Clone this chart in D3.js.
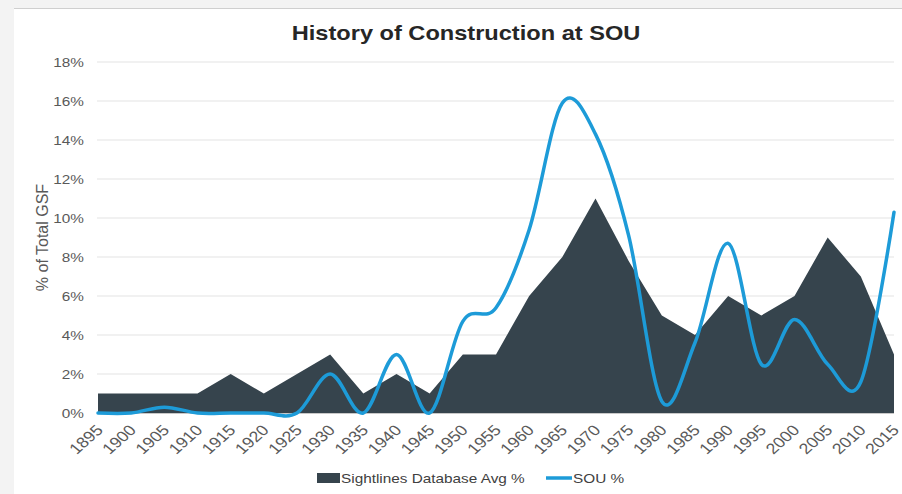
<!DOCTYPE html>
<html>
<head>
<meta charset="utf-8">
<script src="https://cdn.jsdelivr.net/npm/d3@7"></script>
<style>
  html, body { margin: 0; padding: 0; background: #f3f3f3; }
  svg { display: block; font-family: "Liberation Sans", Arial, sans-serif; }
</style>
</head>
<body>
<svg width="902" height="494"></svg>
<script>
const years = ["1895","1900","1905","1910","1915","1920","1925","1930","1935","1940","1945","1950","1955",
  "1960","1965","1970","1975","1980","1985","1990","1995","2000","2005","2010","2015"];
const sightlinesAvg = [1,1,1,1,2,1,2,3,1,2,1,3,3,6,8,11,7.8,5,4,6,5,6,9,7,3];
const souPct = [0,0,0.3,0,0,0,0,2,0,3,0,4.7,5.4,9.4,15.9,14.3,9.1,0.6,3.6,8.7,2.5,4.8,2.5,1.6,10.3];
const yTicks = [0,2,4,6,8,10,12,14,16,18];

const svg = d3.select("svg");
const width = +svg.attr("width");
const height = +svg.attr("height");
const sx = 1.18; // the original picture is stretched sideways

// page frame
svg.append("rect").attr("x", 14).attr("y", 9).attr("width", width - 14).attr("height", height - 9).attr("fill", "#fff");
svg.append("line").attr("x1", 14).attr("x2", width).attr("y1", 8.5).attr("y2", 8.5).attr("stroke", "#cfcfcf");

const x = d3.scalePoint().domain(years).range([98, 894]);
const y = d3.scaleLinear().domain([0, 18]).range([413, 62]);

// gridlines
svg.append("g").selectAll("line").data(yTicks.filter(d => d > 0)).join("line")
    .attr("x1", 97).attr("x2", 894)
    .attr("y1", d => y(d)).attr("y2", d => y(d))
    .attr("stroke", "#ececec").attr("stroke-width", 1.5);

// y tick labels
svg.append("g").selectAll("text").data(yTicks).join("text")
    .attr("transform", d => `translate(84,${y(d)}) scale(${sx},1)`).attr("dy", "0.35em")
    .attr("text-anchor", "end").attr("font-size", 13).attr("fill", "#595959")
    .text(d => d + "%");

// y title
svg.append("text")
    .attr("transform", `translate(48,${y(9)}) rotate(-90)`)
    .attr("text-anchor", "middle").attr("font-size", 16).attr("fill", "#595959")
    .text("% of Total GSF");

// area
const area = d3.area()
    .x((d, i) => x(years[i]))
    .y0(y(0))
    .y1(d => y(d));
svg.append("path").datum(sightlinesAvg).attr("d", area).attr("fill", "#36444d");

// axis line
svg.append("line").attr("x1", 97).attr("x2", 894).attr("y1", y(0) + 0.5).attr("y2", y(0) + 0.5)
    .attr("stroke", "#c8c8c8").attr("stroke-width", 1);

// SOU line
const line = d3.line()
    .x((d, i) => x(years[i]))
    .y(d => y(d))
    .curve(d3.curveCardinal.tension(0));
svg.append("path").datum(souPct).attr("d", line)
    .attr("fill", "none").attr("stroke", "#1d9bd8").attr("stroke-width", 3.5)
    .attr("stroke-linejoin", "round").attr("stroke-linecap", "round");

// x tick labels
svg.append("g").selectAll("text").data(years).join("text")
    .attr("transform", d => `translate(${x(d) + 6},${y(0) + 18}) scale(${sx},1) rotate(-46)`)
    .attr("text-anchor", "end").attr("font-size", 15).attr("fill", "#595959")
    .text(d => d);

// title
svg.append("text").attr("transform", `translate(466,40) scale(${sx},1)`).attr("text-anchor", "middle")
    .attr("font-size", 20).attr("font-weight", "bold").attr("fill", "#262626")
    .text("History of Construction at SOU");

// legend
const lg = svg.append("g").attr("font-size", 13).attr("fill", "#404040");
lg.append("rect").attr("x", 317).attr("y", 473).attr("width", 23).attr("height", 10).attr("fill", "#36444d");
lg.append("text").attr("transform", `translate(341,478) scale(${sx},1)`).attr("dy", "0.35em").text("Sightlines Database Avg %");
lg.append("line").attr("x1", 546).attr("x2", 572).attr("y1", 478).attr("y2", 478)
    .attr("stroke", "#1d9bd8").attr("stroke-width", 3.5);
lg.append("text").attr("transform", `translate(573,478) scale(${sx},1)`).attr("dy", "0.35em").text("SOU %");
</script>
</body>
</html>
